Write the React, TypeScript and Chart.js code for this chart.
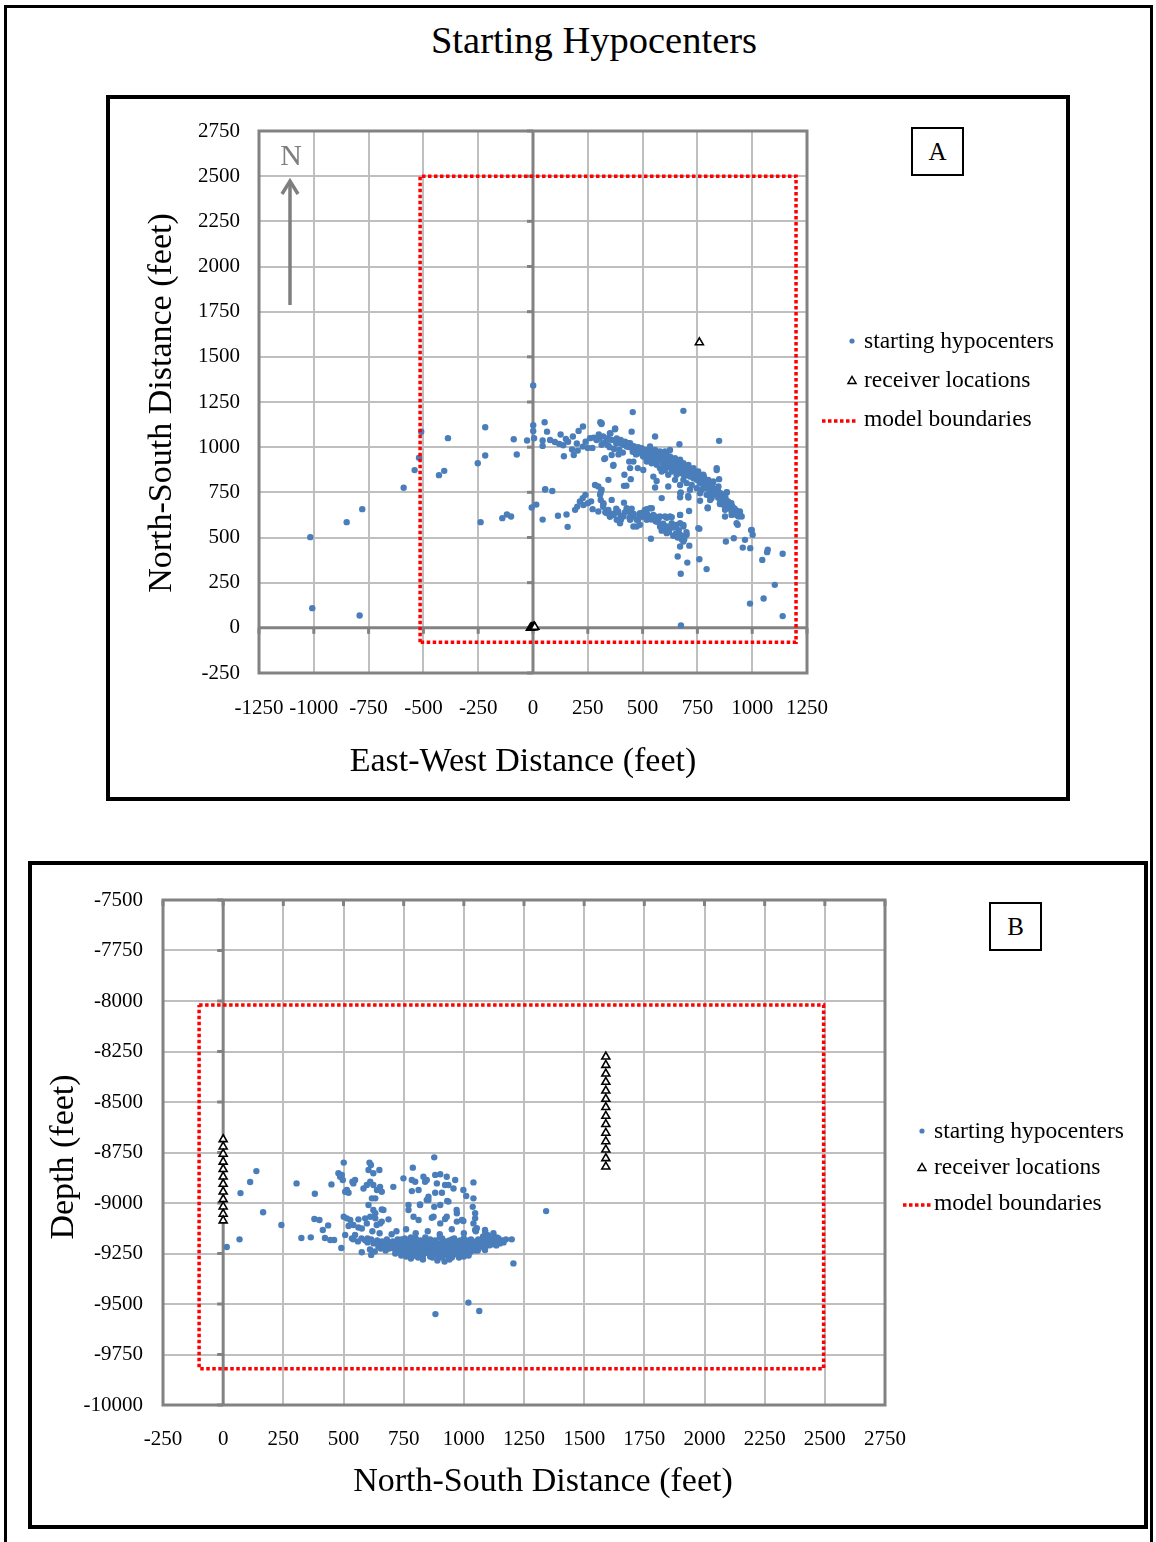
import React, { useEffect, useRef } from 'react';
import { Chart, registerables } from 'chart.js';

Chart.register(...registerables);

const FONT = "'Liberation Serif', 'Times New Roman', Times, serif";

// ---------------- DATA ----------------
// Panel A: plan view (East-West vs North-South, feet)
const planXTicks = [-1250, -1000, -750, -500, -250, 0, 250, 500, 750, 1000, 1250];
const planYTicks = [-250, 0, 250, 500, 750, 1000, 1250, 1500, 1750, 2000, 2250, 2500, 2750];

const planHypocenters: [number, number][] = [
  [-1016, 502], [-1007, 109], [-791, 68], [-850, 585], [-779, 657], [-590, 775], [-540, 873], [-520, 942],
  [-510, 1085], [-388, 1050], [-429, 845], [-405, 869], [-252, 911], [-218, 1110], [-218, 954], [-239, 585],
  [-140, 607], [-119, 627], [-100, 616], [-88, 1044], [-74, 959], [-27, 1037], [1, 1341], [1, 1122], [1, 1090],
  [5, 1050], [44, 1037], [44, 1007], [53, 1138], [64, 1086], [-6, 666], [15, 682], [55, 765], [44, 599],
  [686, 1201], [455, 1194], [849, 1035], [307, 1138], [312, 1128], [375, 1103], [228, 1114], [208, 1090],
  [182, 1059], [126, 1070], [78, 1040], [100, 1029], [120, 1018], [138, 1011], [141, 950], [186, 957],
  [178, 987], [204, 981], [227, 1003], [250, 996], [271, 996], [277, 1053], [303, 1048], [321, 1022],
  [342, 1011], [353, 1075], [382, 1048], [325, 934], [366, 897], [359, 957], [394, 985], [412, 1013],
  [435, 1022], [450, 1086], [439, 920], [417, 847], [446, 823], [426, 787], [344, 819], [283, 791], [298, 782],
  [309, 749], [56, 768], [88, 757], [114, 620], [153, 627], [158, 559], [192, 653], [202, 671], [214, 699],
  [227, 718], [239, 736], [272, 657], [298, 644], [309, 708], [321, 685], [359, 708], [344, 653], [351, 616],
  [374, 635], [389, 644], [401, 598], [415, 693], [427, 662], [446, 635], [450, 659], [443, 598], [473, 561],
  [488, 620], [503, 638], [519, 657], [542, 662], [534, 616], [557, 616], [572, 601], [594, 576], [610, 609],
  [633, 613], [538, 493], [587, 718], [587, 538], [610, 524], [640, 509], [671, 515], [693, 509], [678, 491],
  [686, 478], [671, 450], [701, 515], [671, 625], [686, 570], [671, 579], [660, 395], [674, 299], [704, 361],
  [713, 455], [759, 548], [759, 380], [792, 325], [675, 13], [671, 723], [708, 730], [712, 647], [672, 745],
  [762, 703], [797, 662], [880, 478], [916, 496], [934, 570], [957, 444], [967, 487], [991, 441], [995, 541],
  [1002, 515], [1046, 376], [1071, 433], [1068, 419], [1139, 410], [1103, 238], [1052, 162], [990, 134],
  [1139, 65], [884, 749], [899, 690], [929, 649], [944, 620], [876, 616], [853, 685], [838, 736], [823, 764],
  [807, 782], [800, 736], [838, 874], [849, 823],
  [313, 1133], [351, 1077], [374, 1099], [336, 1040], [313, 1013], [329, 939], [367, 902], [415, 786],
  [313, 764], [306, 736], [321, 690], [557, 1059], [668, 1016], [625, 985], [838, 884], [884, 751], [797, 666],
  [709, 721], [674, 749], [617, 782], [557, 777], [564, 813], [549, 837], [587, 865], [458, 920], [443, 884],
  [478, 884], [503, 874], [519, 930], [617, 847], [648, 819], [671, 791], [716, 764], [762, 745], [808, 708],
  [853, 690], [876, 653], [906, 625], [944, 635], [929, 579], [998, 542],
  [397, 1022], [427, 1004], [443, 1022], [458, 994], [473, 985], [488, 976], [496, 994], [511, 967],
  [526, 957], [534, 976], [549, 948], [564, 939], [572, 967], [587, 930], [595, 948], [602, 920], [610, 957],
  [617, 911], [625, 930], [633, 902], [640, 920], [648, 893], [655, 874], [663, 911], [671, 884], [678, 856],
  [686, 865], [693, 893], [701, 847], [709, 874], [716, 837], [724, 856], [732, 828], [739, 865], [747, 819],
  [754, 837], [762, 801], [770, 828], [777, 791], [785, 810], [792, 773], [800, 791], [808, 764], [815, 782],
  [823, 745], [830, 764], [846, 754], [853, 718], [861, 727], [868, 699], [876, 681], [884, 662], [891, 690],
  [899, 672], [906, 644], [914, 662], [922, 644], [929, 625], [937, 616], [944, 644], [952, 616],
  [503, 948], [519, 920], [541, 911], [564, 902], [579, 884], [602, 874], [633, 865], [655, 847], [686, 819],
  [701, 801], [724, 791], [747, 773], [770, 764], [792, 736], [815, 718],
  [534, 1004], [557, 985], [579, 976], [602, 976], [625, 948], [648, 939], [671, 930], [686, 911], [709, 902],
  [732, 884], [754, 865], [777, 847], [800, 819], [823, 810], [846, 782],
  [470, 960], [480, 1000], [500, 955], [515, 985], [530, 940], [545, 965], [560, 925], [575, 950], [590, 915],
  [605, 935], [620, 900], [635, 925], [650, 905], [665, 880], [680, 895], [695, 870], [710, 860], [725, 845],
  [740, 850], [755, 820], [770, 810], [785, 780], [800, 770], [815, 760], [830, 740], [845, 720], [860, 700],
  [870, 680], [885, 700], [900, 660], [690, 840], [705, 885], [720, 870], [650, 870], [620, 915], [580, 940],
  [560, 960], [540, 925], [520, 950], [500, 985], [480, 970], [460, 1005], [440, 1000], [420, 1030], [400, 1040],
  [380, 1020], [360, 1040], [340, 1050], [320, 1060], [300, 1070], [290, 1040], [260, 1050], [240, 1030],
  [200, 1020], [160, 1030], [150, 1045], [350, 1000], [370, 990], [390, 960], [410, 970],
  [455, 975], [465, 990], [475, 965], [490, 990], [505, 970], [520, 965], [535, 955], [550, 960], [555, 935],
  [570, 930], [585, 945], [598, 930], [612, 925], [628, 915], [642, 905], [655, 895], [668, 900], [675, 870],
  [688, 880], [700, 860], [712, 850], [718, 880], [730, 860], [735, 840], [745, 840], [758, 845], [765, 815],
  [778, 825], [790, 800], [805, 800], [812, 780], [825, 770], [835, 755], [842, 740], [855, 745], [865, 710],
  [878, 720], [890, 700], [895, 680], [910, 670], [920, 660], [930, 640], [660, 915], [700, 890], [745, 860],
  [780, 835], [820, 800], [860, 740], [600, 900], [560, 945], [615, 890], [640, 880], [675, 905], [725, 875],
  [760, 830], [800, 790], [840, 765], [870, 725], [905, 690], [940, 630],
  [336, 635], [351, 616], [367, 625], [382, 598], [412, 616], [443, 644], [458, 616], [473, 598], [488, 635],
  [511, 653], [534, 662], [549, 625], [564, 588], [579, 616], [602, 616], [625, 616], [671, 625], [633, 579],
  [655, 570], [686, 561], [579, 570], [519, 598], [397, 579], [458, 561], [488, 570], [610, 561], [754, 552],
  [250, 690], [265, 700], [230, 680], [320, 670], [330, 640], [360, 630], [380, 660], [400, 620], [420, 640],
  [440, 610], [460, 630], [480, 600], [500, 615], [520, 630], [540, 600], [560, 590], [580, 560], [600, 540],
  [620, 530], [650, 520], [660, 500], [680, 505], [690, 490], [700, 530], [665, 540], [645, 555], [625, 550],
];

const planReceivers: [number, number][] = [
  [-12, 0], [-6, 2], [0, 3], [3, 4], [6, 5], [8, 5], [759, 1580],
];

const planBoundary: [number, number][] = [
  [-515, -80], [-515, 2500], [1200, 2500], [1200, -80], [-515, -80],
];

// Panel B: cross-section (North-South vs Depth, feet)
const depthXTicks = [-250, 0, 250, 500, 750, 1000, 1250, 1500, 1750, 2000, 2250, 2500, 2750];
const depthYTicks = [-10000, -9750, -9500, -9250, -9000, -8750, -8500, -8250, -8000, -7750, -7500];

const depthHypocenters: [number, number][] = [
  [15, -9218], [68, -9180], [72, -8951], [112, -8896], [138, -8842], [166, -9046], [242, -9109], [305, -8903],
  [325, -9173], [364, -9170], [381, -8954], [379, -9079], [400, -9084], [414, -9134], [436, -9111], [423, -9173],
  [445, -9183], [461, -9183], [450, -8908], [491, -9223], [501, -8800], [479, -8853], [486, -8870], [497, -8886],
  [493, -8861], [507, -8944], [521, -8949], [514, -8936], [501, -9068], [514, -9076], [528, -9084], [521, -9114],
  [507, -9158], [541, -8903], [548, -8886], [537, -8895], [541, -9109], [562, -9121], [576, -9126], [562, -9081],
  [535, -9175], [548, -9158], [576, -9244], [615, -9257], [583, -8928], [597, -8911], [611, -8895], [608, -8800],
  [614, -8812], [604, -8837], [624, -8853], [649, -8837], [624, -8911], [639, -8936], [652, -8920], [659, -8944],
  [632, -8977], [618, -8977], [604, -9010], [624, -9035], [659, -9032], [632, -9076], [590, -9076], [687, -9081],
  [707, -8920], [652, -9101], [749, -8878], [788, -8825], [784, -8886], [798, -8895], [832, -8870], [839, -8895],
  [846, -8886], [877, -8774], [881, -8861], [902, -8858], [929, -8870], [936, -8911], [922, -8911], [964, -8886],
  [957, -8928], [998, -8936], [1010, -8965], [1040, -8898], [1040, -8977], [1037, -9019], [1047, -9076],
  [998, -9089], [970, -9035], [931, -8990], [881, -8949], [846, -8985], [818, -9010], [770, -9010], [784, -8941],
  [877, -9019], [867, -9073], [922, -9079], [1199, -9180], [1206, -9299], [1019, -9493], [1064, -9535],
  [882, -9550], [1123, -9175], [1144, -9175], [1088, -9134], [1047, -9134], [1088, -9233], [1342, -9040],
  [812, -8936], [853, -8969], [888, -8903], [909, -8949], [770, -9035], [818, -9007], [853, -8985], [902, -9010],
  [936, -8993], [971, -9051], [632, -9051], [666, -9035], [611, -9068], [659, -9092], [638, -9109], [597, -9101],
  [791, -9068], [812, -9084], [874, -9068], [929, -9068], [902, -9101], [971, -9092], [992, -9084], [1047, -9051],
  [1040, -9101], [1054, -9125], [1089, -9142], [1123, -9150], [1095, -9175], [1137, -9170],
  [540, -9180], [560, -9190], [575, -9175], [590, -9185], [600, -9195], [615, -9180], [625, -9200], [640, -9185],
  [650, -9205], [660, -9190], [670, -9210], [680, -9180], [690, -9200], [700, -9215], [610, -9230], [630, -9240],
  [655, -9225], [675, -9235],
  [705, -9190], [710, -9225], [715, -9250], [720, -9205], [725, -9180], [730, -9240], [735, -9215], [740, -9260],
  [745, -9195], [750, -9230], [755, -9175], [760, -9250], [765, -9210], [770, -9185], [775, -9240], [780, -9220],
  [785, -9265], [790, -9195], [795, -9230], [800, -9175], [805, -9250], [810, -9210], [815, -9240], [820, -9185],
  [825, -9225], [830, -9260], [835, -9200], [840, -9235], [845, -9180], [850, -9215], [855, -9250], [860, -9195],
  [865, -9230], [870, -9270], [875, -9210], [880, -9185], [885, -9245], [890, -9220], [895, -9260], [900, -9200],
  [905, -9235], [910, -9175], [915, -9215], [920, -9250], [925, -9190], [930, -9225], [935, -9265], [940, -9205],
  [945, -9240], [950, -9180], [955, -9220], [960, -9255], [965, -9195], [970, -9235], [975, -9210], [980, -9250],
  [985, -9185], [990, -9225], [995, -9200], [1000, -9240], [1005, -9215], [1010, -9190], [1015, -9230],
  [1020, -9205], [1025, -9245], [1030, -9180], [1035, -9220], [1040, -9200], [1045, -9235], [1050, -9190],
  [1055, -9215], [1060, -9180], [1070, -9200], [1080, -9190], [1090, -9210], [1100, -9185], [1110, -9195],
  [1120, -9180], [1130, -9200], [1145, -9190], [1160, -9185], [1175, -9180],
  [712, -9200], [728, -9220], [742, -9235], [758, -9200], [772, -9255], [788, -9215], [802, -9240], [818, -9200],
  [832, -9220], [848, -9245], [862, -9210], [878, -9230], [892, -9200], [908, -9255], [922, -9210], [938, -9230],
  [952, -9200], [968, -9215], [982, -9230], [998, -9195], [1012, -9250], [1028, -9210], [1042, -9220],
  [1058, -9235], [740, -9180], [760, -9190], [780, -9170], [800, -9200], [820, -9215], [840, -9170], [860, -9180],
  [880, -9205], [900, -9170], [920, -9230], [940, -9185], [960, -9175], [980, -9200], [1000, -9175],
  [1020, -9185], [780, -9275], [830, -9280], [890, -9285], [920, -9290], [950, -9270], [1000, -9265],
  [870, -9240], [900, -9250], [850, -9195], [800, -9225],
  [720, -9140], [760, -9130], [800, -9150], [850, -9140], [900, -9155], [950, -9130], [1000, -9150],
  [1050, -9140], [1100, -9160], [620, -9140], [650, -9150], [1080, -9165], [700, -9155],
  [708, -9210], [718, -9235], [733, -9195], [748, -9215], [762, -9240], [767, -9225], [777, -9200], [783, -9245],
  [793, -9210], [807, -9230], [812, -9190], [823, -9250], [828, -9205], [837, -9240], [843, -9220], [853, -9230],
  [858, -9205], [867, -9215], [873, -9255], [883, -9220], [888, -9235], [897, -9215], [903, -9225], [912, -9240],
  [918, -9200], [927, -9245], [933, -9215], [943, -9225], [948, -9250], [957, -9210], [962, -9240], [972, -9225],
  [978, -9190], [987, -9245], [993, -9215], [1003, -9225], [1008, -9205], [1018, -9220], [1023, -9190],
  [1033, -9235], [1038, -9210], [1048, -9205], [1063, -9210], [1075, -9215], [1085, -9225], [1095, -9200],
  [1105, -9210], [1115, -9205], [1135, -9210], [1150, -9200], [1165, -9195], [760, -9265], [810, -9270],
  [860, -9265], [910, -9270], [940, -9280], [980, -9270], [1020, -9260], [690, -9225], [670, -9195],
  [645, -9215], [600, -9175],
];

const depthReceivers: [number, number][] = [
  [0, -8685], [0, -8721], [0, -8757], [0, -8796], [0, -8833], [0, -8870], [0, -8906], [0, -8944],
  [0, -8982], [0, -9018], [0, -9054], [0, -9087],
  [1590, -8276], [1590, -8317], [1590, -8360], [1590, -8401], [1590, -8444], [1590, -8485], [1590, -8526],
  [1590, -8569], [1590, -8610], [1590, -8653], [1590, -8695], [1590, -8736], [1590, -8779], [1590, -8820],
];

const depthBoundary: [number, number][] = [
  [-100, -8020], [2495, -8020], [2495, -9820], [-100, -9820], [-100, -8020],
];

const legendLabels = ['starting hypocenters', 'receiver locations', 'model boundaries'];

// ---------------- STYLE ----------------
const HYPO_COLOR = '#4A7EBB';
const GRID = '#BFBFBF';
const AXIS = '#828282';

const framePlugin = {
  id: 'frame',
  beforeDatasetsDraw(chart: any, _args: any, opts: any) {
    const { ctx, chartArea: a, scales } = chart;
    const x = scales.x;
    const y = scales.y;
    ctx.save();
    ctx.strokeStyle = AXIS;
    ctx.lineCap = 'butt';
    const line = (x1: number, y1: number, x2: number, y2: number, w: number) => {
      ctx.lineWidth = w;
      ctx.beginPath();
      ctx.moveTo(x1, y1);
      ctx.lineTo(x2, y2);
      ctx.stroke();
    };
    if (opts.vZero) {
      const px = x.getPixelForValue(0);
      line(px, a.top, px, a.bottom, 3);
      y.ticks.forEach((t: any) => {
        const py = y.getPixelForValue(t.value);
        line(px - 6, py, px, py, 3);
      });
    }
    if (opts.hZero) {
      const py = y.getPixelForValue(0);
      line(a.left, py, a.right, py, 3);
      x.ticks.forEach((t: any) => {
        const px = x.getPixelForValue(t.value);
        line(px, py, px, py + 6, 3);
      });
    }
    if (opts.topTicks) {
      x.ticks.forEach((t: any) => {
        const px = x.getPixelForValue(t.value);
        line(px, a.top, px, a.top + 6, 3);
      });
    }
    ctx.lineWidth = 3;
    ctx.strokeRect(a.left, a.top, a.right - a.left, a.bottom - a.top);
    ctx.restore();
  },
};

type PanelProps = {
  left: number; top: number; width: number; height: number;
  hypo: [number, number][]; rec: [number, number][]; boundary: [number, number][];
  xTicks: number[]; yTicks: number[];
  padTop: number; padRight: number; yWidth: number; xHeight: number; yLabPad: number; xLabPad: number;
  vZero?: boolean; hZero?: boolean; topTicks?: boolean;
};

function ScatterPanel(p: PanelProps) {
  const ref = useRef<HTMLCanvasElement>(null);
  useEffect(() => {
    const toPts = (arr: [number, number][]) => arr.map(([x, y]) => ({ x, y }));
    const tickFont = { family: FONT, size: 21 };
    const chart = new Chart(ref.current as HTMLCanvasElement, {
      type: 'scatter',
      data: {
        datasets: [
          {
            label: legendLabels[0],
            data: toPts(p.hypo),
            pointRadius: 3.2,
            pointBackgroundColor: HYPO_COLOR,
            pointBorderColor: HYPO_COLOR,
            pointBorderWidth: 0,
            order: 3,
          } as any,
          {
            label: legendLabels[2],
            data: toPts(p.boundary),
            showLine: true,
            pointRadius: 0,
            borderColor: '#FF0000',
            borderWidth: 3.5,
            borderDash: [3.5, 2.5],
            fill: false,
            order: 2,
          } as any,
          {
            label: legendLabels[1],
            data: toPts(p.rec),
            pointStyle: 'triangle',
            pointRadius: 4.6,
            pointBackgroundColor: '#FFFFFF',
            pointBorderColor: '#000000',
            pointBorderWidth: 1.6,
            order: 1,
          } as any,
        ],
      },
      options: {
        animation: false,
        responsive: false,
        maintainAspectRatio: false,
        events: [],
        layout: { padding: { top: p.padTop, right: p.padRight, left: 0, bottom: 0 } },
        plugins: {
          legend: { display: false },
          tooltip: { enabled: false },
          title: { display: false },
          frame: { vZero: !!p.vZero, hZero: !!p.hZero, topTicks: !!p.topTicks },
        } as any,
        scales: {
          x: {
            type: 'linear',
            position: 'bottom',
            min: p.xTicks[0],
            max: p.xTicks[p.xTicks.length - 1],
            afterBuildTicks: (s: any) => { s.ticks = p.xTicks.map((v) => ({ value: v })); },
            afterFit: (s: any) => { s.height = p.xHeight; },
            ticks: {
              autoSkip: false, maxRotation: 0, minRotation: 0, padding: p.xLabPad, color: '#000',
              font: tickFont, callback: (v: any) => String(v),
            },
            grid: { color: GRID, lineWidth: 2, drawTicks: false },
            border: { display: false },
          } as any,
          y: {
            type: 'linear',
            position: 'left',
            min: p.yTicks[0],
            max: p.yTicks[p.yTicks.length - 1],
            afterBuildTicks: (s: any) => { s.ticks = p.yTicks.map((v) => ({ value: v })); },
            afterFit: (s: any) => { s.width = p.yWidth; },
            ticks: {
              autoSkip: false, padding: p.yLabPad, color: '#000',
              font: tickFont, callback: (v: any) => String(v),
            },
            grid: { color: GRID, lineWidth: 2, drawTicks: false },
            border: { display: false },
          } as any,
        },
      },
      plugins: [framePlugin as any],
    });
    return () => chart.destroy();
  }, []);
  return (
    <canvas
      ref={ref}
      width={p.width}
      height={p.height}
      style={{ position: 'absolute', left: p.left, top: p.top, width: p.width, height: p.height }}
    />
  );
}

type TxtProps = {
  x: number; y: number; size: number; children: React.ReactNode;
  align?: 'left' | 'center'; color?: string; rotate?: boolean; w?: number;
};

function Txt({ x, y, size, children, align = 'left', color = '#000', rotate = false, w = 700 }: TxtProps) {
  const base: React.CSSProperties = {
    position: 'absolute',
    fontFamily: FONT,
    fontSize: size,
    lineHeight: `${size}px`,
    color,
    whiteSpace: 'nowrap',
    height: size,
    top: y - size / 2,
  };
  if (align === 'center' || rotate) {
    return (
      <div style={{ ...base, left: x - w / 2, width: w, textAlign: 'center', transform: rotate ? 'rotate(-90deg)' : undefined }}>
        {children}
      </div>
    );
  }
  return <div style={{ ...base, left: x }}>{children}</div>;
}

function Legend({ x, textX, rows, lineFrom, lineTo }: { x: number; textX: number; rows: number[]; lineFrom: number; lineTo: number }) {
  return (
    <>
      <svg style={{ position: 'absolute', left: 0, top: 0, overflow: 'visible' }} width={1} height={1}>
        <circle cx={x} cy={rows[0]} r={2.6} fill={HYPO_COLOR} />
        <polygon
          points={`${x - 4},${rows[1] + 3.5} ${x + 4},${rows[1] + 3.5} ${x},${rows[1] - 3.5}`}
          fill="#fff" stroke="#000" strokeWidth={1.5}
        />
        <line x1={lineFrom} y1={rows[2] + 2} x2={lineTo} y2={rows[2] + 2} stroke="#FF0000" strokeWidth={3.5} strokeDasharray="3.5 2.5" />
      </svg>
      <Txt x={textX} y={rows[0]} size={23.5}>{legendLabels[0]}</Txt>
      <Txt x={textX} y={rows[1]} size={23.5}>{legendLabels[1]}</Txt>
      <Txt x={textX} y={rows[2]} size={23.5}>{legendLabels[2]}</Txt>
    </>
  );
}

function LetterBox({ left, top, letter }: { left: number; top: number; letter: string }) {
  return (
    <div
      style={{
        position: 'absolute', left, top, width: 53, height: 49, boxSizing: 'border-box',
        border: '2px solid #000', fontFamily: FONT, fontSize: 25, lineHeight: '45px', textAlign: 'center',
        background: '#fff',
      }}
    >
      {letter}
    </div>
  );
}

export default function App() {
  return (
    <div style={{ position: 'absolute', left: 0, top: 0, width: 1156, height: 1542, background: '#fff', overflow: 'hidden' }}>
      {/* outer frame */}
      <div
        style={{
          position: 'absolute', left: 4, top: 5, width: 1149, height: 1537, boxSizing: 'border-box',
          borderTop: '3px solid #000', borderLeft: '3px solid #000', borderRight: '3px solid #000',
        }}
      />
      <Txt x={594} y={40} size={38.5} align="center">Starting Hypocenters</Txt>

      {/* Panel A */}
      <div
        style={{
          position: 'absolute', left: 106, top: 95, width: 964, height: 706, boxSizing: 'border-box',
          border: '4px solid #000',
        }}
      />
      <ScatterPanel
        left={110} top={99} width={956} height={698}
        hypo={planHypocenters} rec={planReceivers} boundary={planBoundary}
        xTicks={planXTicks} yTicks={planYTicks}
        padTop={32} padRight={259} yWidth={149} xHeight={124} yLabPad={19} xLabPad={23}
        vZero hZero
      />
      <Txt x={523} y={760} size={34} align="center">East-West Distance (feet)</Txt>
      <Txt x={160} y={403} size={34} rotate w={420}>North-South Distance (feet)</Txt>
      <LetterBox left={911} top={127} letter="A" />
      <Legend x={852} textX={864} rows={[341, 380, 419]} lineFrom={822} lineTo={858} />
      {/* north arrow */}
      <svg style={{ position: 'absolute', left: 0, top: 0, overflow: 'visible' }} width={1} height={1}>
        <line x1={290} y1={305} x2={290} y2={182} stroke="#7F7F7F" strokeWidth={3.5} />
        <polyline points="282,194 290,181 298,194" fill="none" stroke="#7F7F7F" strokeWidth={3.5} />
      </svg>
      <Txt x={291} y={155} size={30} align="center" color="#7F7F7F" w={40}>N</Txt>

      {/* Panel B */}
      <div
        style={{
          position: 'absolute', left: 28, top: 861, width: 1120, height: 668, boxSizing: 'border-box',
          border: '4px solid #000',
        }}
      />
      <ScatterPanel
        left={32} top={865} width={1112} height={660}
        hypo={depthHypocenters} rec={depthReceivers} boundary={depthBoundary}
        xTicks={depthXTicks} yTicks={depthYTicks}
        padTop={35} padRight={259} yWidth={131} xHeight={120} yLabPad={20} xLabPad={22}
        vZero topTicks
      />
      <Txt x={543} y={1480} size={34} align="center">North-South Distance (feet)</Txt>
      <Txt x={62} y={1157} size={34} rotate w={260}>Depth (feet)</Txt>
      <LetterBox left={989} top={902} letter="B" />
      <Legend x={922} textX={934} rows={[1131, 1167, 1203]} lineFrom={903} lineTo={933} />
    </div>
  );
}
